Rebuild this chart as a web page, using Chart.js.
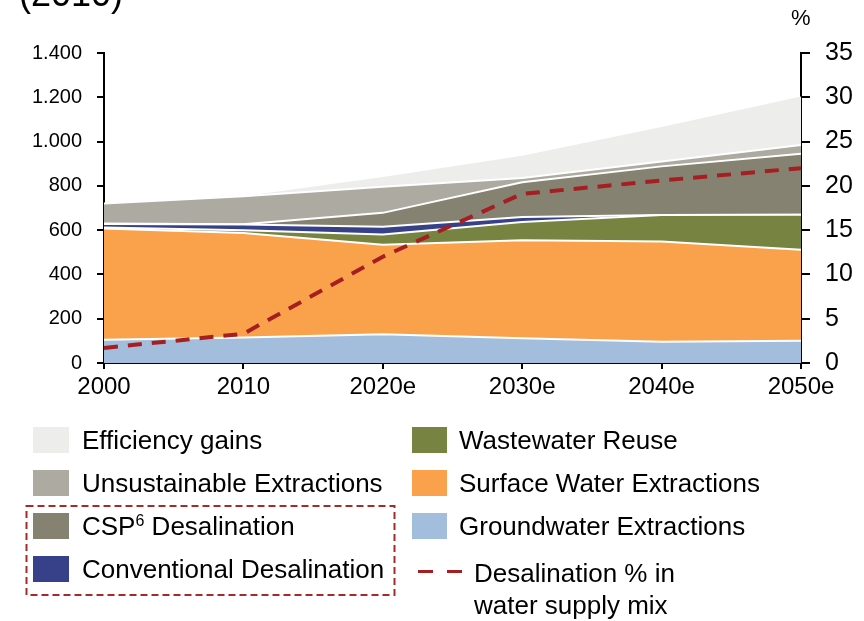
<!DOCTYPE html>
<html>
<head>
<meta charset="utf-8">
<script src="https://cdn.jsdelivr.net/npm/chart.js@4/dist/chart.umd.min.js"></script>
<style>
  html, body { margin:0; padding:0; background:#fff; }
  #wrap { position:relative; width:864px; height:621px; overflow:hidden; font-family:"Liberation Sans", Arial, sans-serif; color:#000; }
  canvas { position:absolute; left:0; top:0; }
  .t { position:absolute; white-space:nowrap; }
  .lg { position:absolute; height:30px; line-height:30px; font-size:26px; white-space:nowrap; }
  .sw { position:absolute; }
  sup { font-size:16px; vertical-align:9px; line-height:0; }
  svg { position:absolute; left:0; top:0; }
</style>
</head>
<body>
<div id="wrap">
  <canvas id="c" width="864" height="621"></canvas>
  <div class="t" id="title" style="left:19px; top:-26px; font-size:36px; line-height:40px;">(2010)</div>
  <div class="t" style="left:791px; top:5px; font-size:22px; line-height:26px;">%</div>
  <svg width="864" height="621"><rect x="26.5" y="506" width="368" height="89" fill="none" stroke="#A52A2A" stroke-width="2" stroke-dasharray="7 4"/></svg>
  <div id="legend"></div>
</div>
<script>
// ---- data ----
const years = ['2000', '2010', '2020e', '2030e', '2040e', '2050e'];
const groundwater   = [105, 115, 130, 112,  96, 100];
const surfaceWater  = [502, 472, 404, 442, 453, 412];
const wastewater    = [  5,  13,  46,  83, 119, 158];
const conventional  = [ 16,  25,  35,  22,   0,   0];
const cspDesal      = [  2,   2,  63, 157, 220, 275];
const unsustainable = [ 90, 126, 118,  19,  22,  40];
const efficiency    = [  0,   0,  44, 101, 156, 219];
const desalPct      = [1.7, 3.3, 12.0, 19.1, 20.6, 22.0];

const leftTicks  = [0, 200, 400, 600, 800, 1000, 1200, 1400];
const rightTicks = [0, 5, 10, 15, 20, 25, 30, 35];

const names = {
  eff: 'Efficiency gains',
  uns: 'Unsustainable Extractions',
  csp: 'CSP6 Desalination',
  conv: 'Conventional Desalination',
  ww: 'Wastewater Reuse',
  sw: 'Surface Water Extractions',
  gw: 'Groundwater Extractions',
  pct: 'Desalination % in water supply mix'
};
const colors = {
  eff: '#EDEDEB', uns: '#ADAAA2', csp: '#858271', conv: '#36418A',
  ww: '#778441', sw: '#F9A24B', gw: '#A3BEDD', pct: '#A51E22'
};

function fmtThousands(v) {
  if (v >= 1000) return Math.floor(v / 1000) + '.' + String(v % 1000).padStart(3, '0');
  return String(v);
}

const FONT = '"Liberation Sans", Arial, sans-serif';

function area(key, data, fill) {
  return {
    label: names[key], data: data, yAxisID: 'y', fill: fill,
    backgroundColor: colors[key], borderColor: '#ffffff', borderWidth: 2,
    pointRadius: 0, tension: 0
  };
}

new Chart(document.getElementById('c'), {
  type: 'line',
  data: {
    labels: years,
    datasets: [
      { label: names.pct, data: desalPct, yAxisID: 'y1', fill: false,
        borderColor: colors.pct, borderWidth: 4, borderDash: [14, 10],
        pointRadius: 0, tension: 0 },
      area('gw', groundwater, 'origin'),
      area('sw', surfaceWater, '-1'),
      area('ww', wastewater, '-1'),
      area('conv', conventional, '-1'),
      area('csp', cspDesal, '-1'),
      area('uns', unsustainable, '-1'),
      Object.assign(area('eff', efficiency, '-1'), { borderWidth: 0 })
    ]
  },
  options: {
    responsive: false, animation: false, devicePixelRatio: 1,
    layout: { padding: { top: 53, left: 0, right: 0, bottom: 0 } },
    plugins: { legend: { display: false }, tooltip: { enabled: false }, title: { display: false } },
    scales: {
      x: {
        offset: false,
        grid: { display: true, drawOnChartArea: false, drawTicks: true, tickLength: 6, color: '#000', lineWidth: 2 },
        border: { display: true, color: '#000', width: 2 },
        ticks: { color: '#000', font: { size: 24, family: FONT }, padding: 4, maxRotation: 0, autoSkip: false },
        afterFit(s) { s.height = 258; }
      },
      y: {
        position: 'left', stacked: true, min: 0, max: 1400,
        afterBuildTicks(s) { s.ticks = leftTicks.map(v => ({ value: v })); },
        grid: { display: true, drawOnChartArea: false, drawTicks: true, tickLength: 7, color: '#000', lineWidth: 2 },
        border: { display: true, color: '#000', width: 2 },
        ticks: { color: '#000', font: { size: 20, family: FONT }, padding: 15, callback: v => fmtThousands(v) },
        afterFit(s) { s.width = 104; }
      },
      y1: {
        position: 'right', min: 0, max: 35,
        afterBuildTicks(s) { s.ticks = rightTicks.map(v => ({ value: v })); },
        grid: { display: true, drawOnChartArea: false, drawTicks: true, tickLength: 9, color: '#000', lineWidth: 2 },
        border: { display: true, color: '#000', width: 2 },
        ticks: { color: '#000', font: { size: 25, family: FONT }, padding: 15 },
        afterFit(s) { s.width = 63; }
      }
    }
  }
});

// ---- legend (HTML) ----
const legend = document.getElementById('legend');
const rowsY = [440, 483, 526, 569];
const col1 = [['eff', 0], ['uns', 1], ['csp', 2], ['conv', 3]];
const col2 = [['ww', 0], ['sw', 1], ['gw', 2]];
function addSwatch(x, w, key, row) {
  const d = document.createElement('div');
  d.className = 'sw';
  d.style.cssText = `left:${x}px; top:${rowsY[row] - 13}px; width:${w}px; height:26px; background:${colors[key]};`;
  legend.appendChild(d);
}
function addText(x, yc, html) {
  const d = document.createElement('div');
  d.className = 'lg';
  d.style.left = x + 'px';
  d.style.top = (yc - 15) + 'px';
  d.innerHTML = html;
  legend.appendChild(d);
}
col1.forEach(([k, r]) => {
  addSwatch(33, 36, k, r);
  const txt = k === 'csp' ? 'CSP<sup>6</sup> Desalination' : names[k];
  addText(82, rowsY[r], txt);
});
col2.forEach(([k, r]) => {
  addSwatch(412, 35, k, r);
  addText(459, rowsY[r], names[k]);
});
// dashed line legend key
[[418, 15], [447, 15]].forEach(([x, w]) => {
  const d = document.createElement('div');
  d.className = 'sw';
  d.style.cssText = `left:${x}px; top:570px; width:${w}px; height:3px; background:${colors.pct};`;
  legend.appendChild(d);
});
addText(474, 573, 'Desalination % in');
addText(474, 605, 'water supply mix');
</script>
</body>
</html>
